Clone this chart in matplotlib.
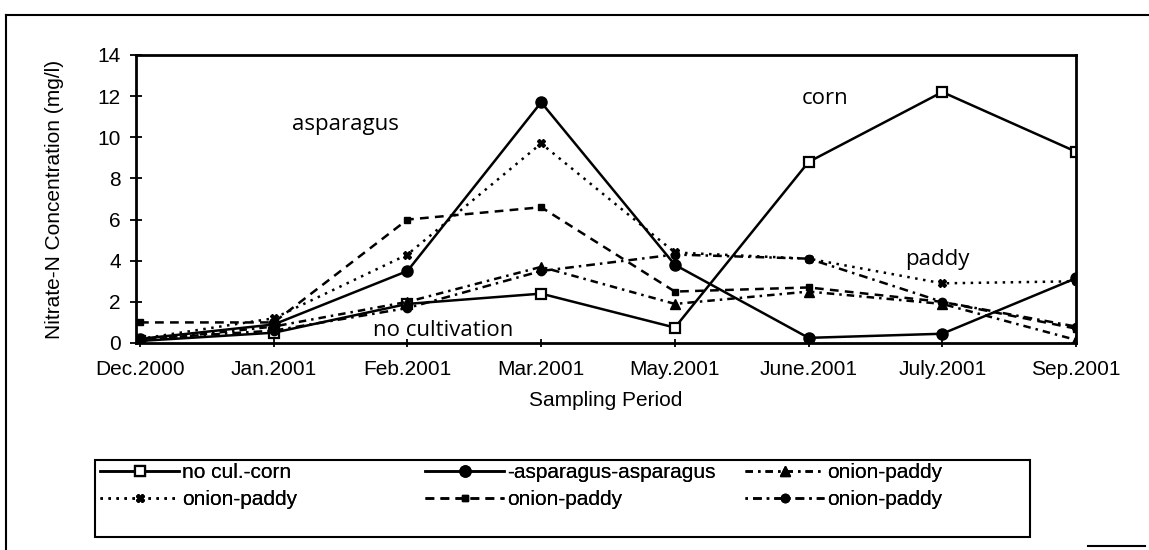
import matplotlib
matplotlib.use("Agg")
import matplotlib.pyplot as plt
from matplotlib.lines import Line2D
from matplotlib.patches import Rectangle

# ---------------- data ----------------
periods = ["Dec.2000", "Jan.2001", "Feb.2001", "Mar.2001",
           "May.2001", "June.2001", "July.2001", "Sep.2001"]
no_cul_corn = [0.1, 0.5, 1.9, 2.4, 0.75, 8.8, 12.2, 9.3]
asparagus_asparagus = [0.2, 0.9, 3.5, 11.7, 3.8, 0.25, 0.45, 3.15]
onion_paddy_tri = [0.1, 0.8, 2.0, 3.7, 1.9, 2.5, 1.9, 0.15]
onion_paddy_dot = [0.2, 1.2, 4.3, 9.7, 4.4, 4.1, 2.9, 3.0]
onion_paddy_sq = [1.0, 1.0, 6.0, 6.6, 2.5, 2.7, 2.0, 0.7]
onion_paddy_circ = [0.2, 0.6, 1.7, 3.5, 4.3, 4.1, 2.0, 0.8]
y_ticks = [0, 2, 4, 6, 8, 10, 12, 14]

W, H = 1149, 550
fig = plt.figure(figsize=(W / 100, H / 100), dpi=100)
fig.patch.set_facecolor("white")

def fx(px):
    return px / W

def fy(py):
    return 1 - py / H

# plot area
ax = fig.add_axes([fx(136), fy(343), fx(1076) - fx(136), fy(55) - fy(343)])
x = list(range(len(periods)))

tick_font = dict(family="Liberation Sans", size=15)

l_corn, = ax.plot(x, no_cul_corn, color="black", lw=1.8, marker="s", ms=7,
                  mfc="white", mec="black", mew=1.6)
l_asp, = ax.plot(x, asparagus_asparagus, color="black", lw=1.8, marker="o", ms=8,
                 mfc="black", mec="black")
l_tri, = ax.plot(x, onion_paddy_tri, color="black", lw=1.8, ls=(0, (3, 2, 1, 2)),
                 marker="^", ms=7, mfc="black", mec="black")
l_dot, = ax.plot(x, onion_paddy_dot, color="black", lw=1.8, ls=(0, (1, 2.2)),
                 marker="X", ms=6, mfc="black", mec="black")
l_sq, = ax.plot(x, onion_paddy_sq, color="black", lw=1.8, ls=(0, (3.5, 2.5)),
                marker="s", ms=5, mfc="black", mec="black")
l_circ, = ax.plot(x, onion_paddy_circ, color="black", lw=1.8, ls=(0, (1, 2, 3.5, 2)),
                  marker="o", ms=6, mfc="black", mec="black")

ax.set_xlim(-0.03, len(periods) - 1)
ax.set_ylim(0, 14)
ax.set_yticks(y_ticks)
ax.set_yticklabels([str(v) for v in y_ticks], fontdict=tick_font)
ax.set_xticks(x)
ax.set_xticklabels(periods, fontdict=tick_font)
ax.tick_params(axis="y", direction="inout", length=8, width=1.3, pad=7)
ax.tick_params(axis="x", direction="inout", length=6, width=1.3, pad=9)
for s in ax.spines.values():
    s.set_linewidth(2.0)
    s.set_color("black")

# in-plot labels
ann_font = dict(family="Open Sans", size=16, color="black")
ax.text(1.14, 10.6, "asparagus", va="center", ha="left", **ann_font)
ax.text(4.95, 11.9, "corn", va="center", ha="left", **ann_font)
ax.text(5.72, 4.05, "paddy", va="center", ha="left", **ann_font)
ax.text(1.74, 0.63, "no cultivation", va="center", ha="left", **ann_font)

# axis titles
fig.text(fx(55), fy(199), "Nitrate-N Concentration (mg/l)", rotation=90,
         ha="center", va="center", **tick_font)
fig.text(fx(606), fy(401), "Sampling Period", ha="center", va="center", **tick_font)

# outer chart frame
fig.add_artist(Line2D([fx(6), 1.0], [fy(15), fy(15)], color="black", lw=1.5,
                      transform=fig.transFigure))
fig.add_artist(Line2D([fx(6), fx(6)], [fy(15), 0.0], color="black", lw=1.5,
                      transform=fig.transFigure))
fig.add_artist(Line2D([fx(1088), fx(1145)], [fy(546), fy(546)], color="black", lw=1.5,
                      transform=fig.transFigure))

# legend box
fig.add_artist(Rectangle((fx(95), fy(537)), fx(1030) - fx(95), fy(460) - fy(537),
                         fill=False, ec="black", lw=1.5, transform=fig.transFigure))

leg_font = dict(family="Liberation Sans", size=15)
columns = [
    ([l_corn, l_dot], ["no cul.-corn", "onion-paddy"], 100),
    ([l_asp, l_sq], ["-asparagus-asparagus", "onion-paddy"], 425),
    ([l_tri, l_circ], ["onion-paddy", "onion-paddy"], 745),
]
for handles, labels, xpx in columns:
    lg = fig.legend(handles, labels, loc="upper left",
                    bbox_to_anchor=(fx(xpx), fy(463)), bbox_transform=fig.transFigure,
                    frameon=False, prop=leg_font, handlelength=3.8,
                    handletextpad=0.15, labelspacing=0.4, borderpad=0,
                    borderaxespad=0, numpoints=1)
    fig.add_artist(lg)

fig.savefig("out.png", dpi=100, facecolor="white")
